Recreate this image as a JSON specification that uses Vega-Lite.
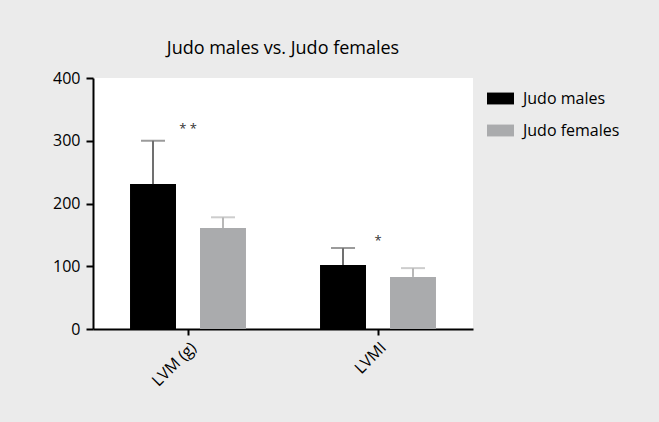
{
  "$schema": "https://vega.github.io/schema/vega-lite/v6.json",
  "width": 380,
  "height": 251,
  "autosize": {"type": "none"},
  "padding": {"left": 93, "top": 78, "right": 186, "bottom": 93},
  "background": "#ebebeb",
  "title": {"text": "Judo males vs. Judo females", "fontSize": 18, "fontWeight": "normal", "font": "Open Sans", "color": "#000000", "offset": 12, "anchor": "middle"},
  "config": {
    "view": {"fill": "#ffffff", "stroke": null},
    "font": "Open Sans"
  },
  "datasets": {
    "bars": [
      {"measure": "LVM (g)", "group": "Judo males", "mean": 231, "upper": 300},
      {"measure": "LVM (g)", "group": "Judo females", "mean": 161, "upper": 178},
      {"measure": "LVMI", "group": "Judo males", "mean": 102, "upper": 129},
      {"measure": "LVMI", "group": "Judo females", "mean": 83, "upper": 97}
    ],
    "stars": [
      {"measure": "LVM (g)", "pos": 318, "sig": "* *"},
      {"measure": "LVMI", "pos": 141, "sig": "*"}
    ]
  },
  "encoding": {
    "x": {
      "field": "measure", "type": "nominal", "sort": ["LVM (g)", "LVMI"],
      "scale": {"paddingInner": 0, "paddingOuter": 0},
      "axis": {
        "title": null, "labelAngle": -45, "labelFontSize": 16, "labelColor": "#000000",
        "domainColor": "#000000", "domainWidth": 2, "tickColor": "#000000", "tickWidth": 2, "tickSize": 6,
        "labelPadding": 4
      }
    }
  },
  "layer": [
    {
      "data": {"name": "bars"},
      "mark": {"type": "bar"},
      "encoding": {
        "xOffset": {"field": "group", "type": "nominal", "sort": ["Judo males", "Judo females"], "scale": {"paddingInner": 0.343, "paddingOuter": 0.529}},
        "y": {
          "field": "mean", "type": "quantitative",
          "scale": {"domain": [0, 400], "nice": false},
          "axis": {
            "title": null, "values": [0, 100, 200, 300, 400], "grid": false,
            "labelFontSize": 16, "labelColor": "#000000", "labelPadding": 6,
            "domainColor": "#000000", "domainWidth": 2, "tickColor": "#000000", "tickWidth": 2, "tickSize": 7
          }
        },
        "color": {
          "field": "group", "type": "nominal", "sort": ["Judo males", "Judo females"],
          "scale": {"domain": ["Judo males", "Judo females"], "range": ["#000000", "#aaabad"]},
          "legend": {
            "title": null, "orient": "none", "legendX": 394, "legendY": 7,
            "symbolType": "M-1,-0.44H1V0.44H-1Z", "symbolSize": 729, "symbolStrokeWidth": 0,
            "labelFontSize": 16, "labelColor": "#000000", "labelOffset": 9, "rowPadding": 10, "padding": 0
          }
        }
      }
    },
    {
      "data": {"name": "bars"},
      "mark": {"type": "rule", "strokeWidth": 2},
      "encoding": {
        "xOffset": {"field": "group", "type": "nominal", "sort": ["Judo males", "Judo females"], "scale": {"paddingInner": 0.343, "paddingOuter": 0.529}},
        "y": {"field": "mean", "type": "quantitative"},
        "y2": {"field": "upper"},
        "stroke": {"field": "group", "type": "nominal", "scale": {"domain": ["Judo males", "Judo females"], "range": ["#707070", "#b8b8b8"]}, "legend": null}
      }
    },
    {
      "data": {"name": "bars"},
      "mark": {"type": "tick", "thickness": 2, "size": 24, "orient": "horizontal"},
      "encoding": {
        "xOffset": {"field": "group", "type": "nominal", "sort": ["Judo males", "Judo females"], "scale": {"paddingInner": 0.343, "paddingOuter": 0.529}},
        "y": {"field": "upper", "type": "quantitative"},
        "color": {"field": "group", "type": "nominal", "scale": {"domain": ["Judo males", "Judo females"], "range": ["#000000", "#aaabad"]}, "legend": null},
        "fill": {"field": "group", "type": "nominal", "scale": {"domain": ["Judo males", "Judo females"], "range": ["#707070", "#b8b8b8"]}, "legend": null}
      }
    },
    {
      "data": {"name": "stars"},
      "mark": {"type": "text", "fontSize": 13, "color": "#333333", "baseline": "middle", "align": "center"},
      "encoding": {
        "y": {"field": "pos", "type": "quantitative"},
        "text": {"field": "sig"}
      }
    }
  ]
}
